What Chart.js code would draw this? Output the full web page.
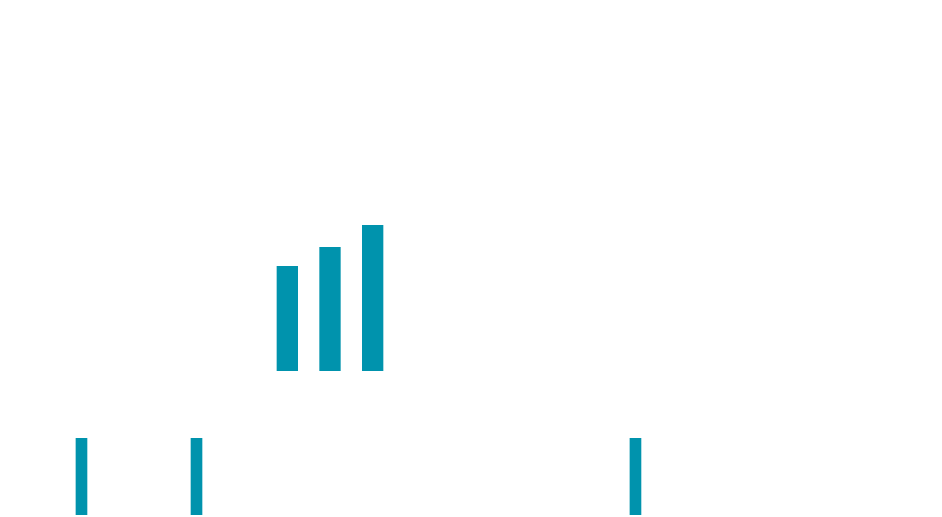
<!DOCTYPE html>
<html>
<head>
<meta charset="utf-8">
<script src="https://cdn.jsdelivr.net/npm/chart.js@4/dist/chart.umd.min.js"></script>
<style>
    html, body { margin: 0; padding: 0; background: #fff; overflow: hidden; }
    .box { position: absolute; }
    #top-box { left: 266px; top: 225px; width: 128px; height: 146px; }
    #bottom-box { left: 0; top: 438px; width: 942px; height: 77px; }
</style>
</head>
<body>
<div class="box" id="top-box"><canvas id="steps-chart"></canvas></div>
<div class="box" id="bottom-box"><canvas id="events-chart"></canvas></div>
<script>
// Rising group of three bars
const stepLabels = ['1', '2', '3'];
const stepValues = [72, 85, 100];

// Marker bars along the bottom (position in % of width)
const eventPositions = [8.65, 20.86, 67.46];
const eventValues = [1, 1, 1];

const BAR_COLOR = 'rgb(0, 147, 173)';

const hiddenAxis = { display: false };

new Chart(document.getElementById('steps-chart'), {
    type: 'bar',
    data: {
        labels: stepLabels,
        datasets: [{
            data: stepValues,
            backgroundColor: BAR_COLOR,
            borderWidth: 0,
            categoryPercentage: 1,
            barPercentage: 0.5
        }]
    },
    options: {
        responsive: true,
        maintainAspectRatio: false,
        animation: false,
        layout: { padding: 0 },
        plugins: { legend: { display: false }, tooltip: { enabled: false } },
        scales: {
            x: hiddenAxis,
            y: { display: false, min: 0, max: 100 }
        }
    }
});

new Chart(document.getElementById('events-chart'), {
    type: 'bar',
    data: {
        datasets: [{
            data: eventPositions.map((p, i) => ({ x: p, y: eventValues[i] })),
            backgroundColor: BAR_COLOR,
            borderWidth: 0,
            barThickness: 11
        }]
    },
    options: {
        responsive: true,
        maintainAspectRatio: false,
        animation: false,
        layout: { padding: 0 },
        plugins: { legend: { display: false }, tooltip: { enabled: false } },
        scales: {
            x: { type: 'linear', display: false, min: 0, max: 100, offset: false },
            y: { display: false, min: 0, max: 1 }
        }
    }
});
</script>
</body>
</html>
